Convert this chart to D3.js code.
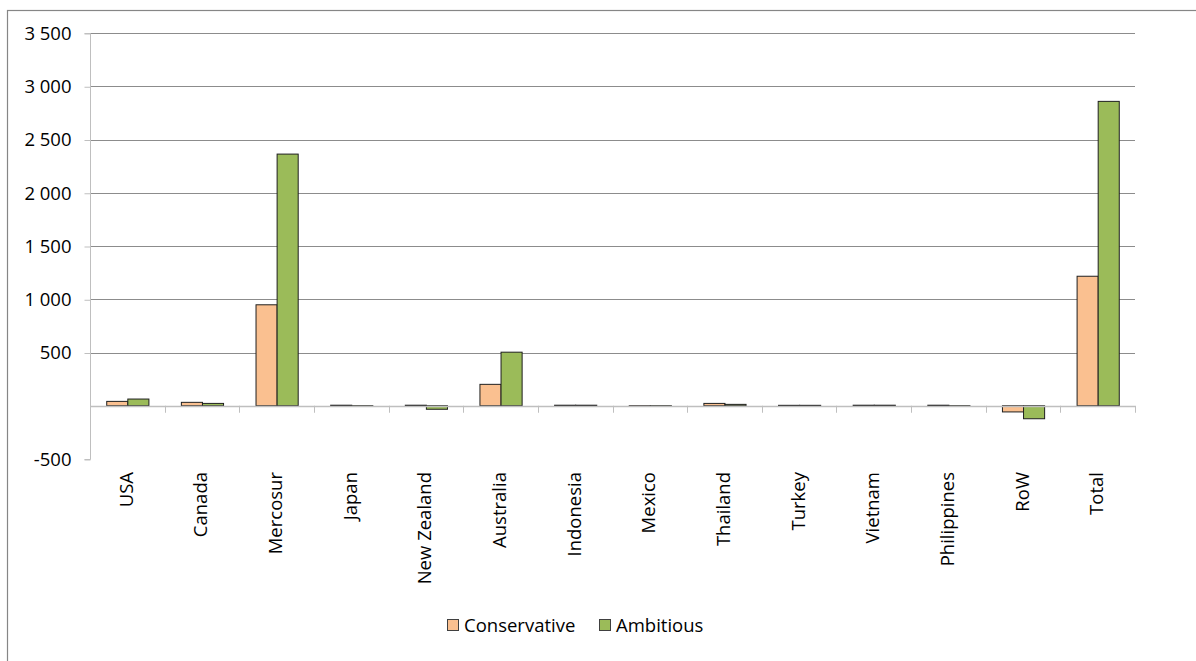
<!DOCTYPE html>
<html>
<head>
<meta charset="utf-8">
<script src="https://cdn.jsdelivr.net/npm/d3@7"></script>
<style>
  html, body { margin: 0; padding: 0; background: #fff; }
  svg { display: block; font-family: "Open Sans", "DejaVu Sans", sans-serif; }
</style>
</head>
<body>
<svg id="chart" width="1196" height="661"></svg>
<script>
// Regions and the two scenario series
const categories = ["USA", "Canada", "Mercosur", "Japan", "New Zealand", "Australia",
  "Indonesia", "Mexico", "Thailand", "Turkey", "Vietnam", "Philippines", "RoW", "Total"];
const seriesNames = ["Conservative", "Ambitious"];
const conservative = [41, 32, 948, 5, 5, 201, 5, -4, 22, 4, 5, 5, -58, 1216];
const ambitious    = [63, 22, 2363, -5, -33, 503, 5, -5, 13, 4, 5, -5, -122, 2858];
const yTicks = [-500, 0, 500, 1000, 1500, 2000, 2500, 3000, 3500];
const seriesColors = ["#FAC090", "#9BBB59"];

const svg = d3.select("#chart");
const plot = { left: 90, right: 1135, top: 33, bottom: 459 };
const fontSize = 18.5;

// Outer chart frame
svg.append("rect")
  .attr("x", 7.5).attr("y", 10.5)
  .attr("width", 1300).attr("height", 800)
  .attr("fill", "none").attr("stroke", "#868686").attr("stroke-width", 1.2);

const y = d3.scaleLinear().domain([-500, 3500]).range([plot.bottom, plot.top]);
const x = d3.scaleBand().domain(categories).range([plot.left, plot.right])
  .paddingInner(0.435).paddingOuter(0.2175);
const xs = d3.scaleBand().domain(seriesNames).range([0, x.bandwidth()]);

// Thousands separated by a space, plain hyphen for negatives
const fmt = v => (v < 0 ? "-" : "") + d3.format(",")(Math.abs(v)).replace(/,/g, " ");

// Horizontal gridlines
svg.append("g").selectAll("line")
  .data(yTicks.filter(d => d !== 0 && d !== -500))
  .join("line")
  .attr("x1", plot.left).attr("x2", plot.right)
  .attr("y1", d => Math.round(y(d)) + 0.5).attr("y2", d => Math.round(y(d)) + 0.5)
  .attr("stroke", "#8c8c8c").attr("stroke-width", 1);

// Y axis
const yAxis = svg.append("g")
  .attr("transform", `translate(${plot.left + 0.5},0.5)`)
  .call(d3.axisLeft(y).tickValues(yTicks).tickSize(6).tickPadding(13)
    .tickFormat(d => d === 0 ? "" : fmt(d)));
yAxis.select(".domain").attr("stroke", "#bfbfbf").attr("d", `M-6,${y(-500)}H0V${y(3500)}H-6`);
yAxis.selectAll(".tick line").attr("stroke", "#bfbfbf");
yAxis.selectAll(".tick text").attr("font-size", fontSize).attr("fill", "#000")
  .attr("font-family", "Open Sans, sans-serif");
yAxis.selectAll(".tick").filter(d => d === 0).select("line").remove();

// Bars
const groups = svg.append("g").selectAll("g")
  .data(categories.map((c, i) => ({ c, vals: [conservative[i], ambitious[i]] })))
  .join("g")
  .attr("transform", d => `translate(${x(d.c)},0)`);
groups.selectAll("rect")
  .data(d => d.vals.map((v, j) => ({ v, s: seriesNames[j], j })))
  .join("rect")
  .attr("x", d => xs(d.s) + 0.5)
  .attr("width", xs.bandwidth())
  .attr("y", d => Math.min(y(d.v), y(0)))
  .attr("height", d => Math.abs(y(d.v) - y(0)))
  .attr("fill", d => seriesColors[d.j])
  .attr("stroke", "#1f1f1f").attr("stroke-width", 1);

// X axis at zero, ticks between categories
const step = x.step();
const boundaries = d3.range(categories.length + 1).map(i => plot.left + i * step);
const xAxis = svg.append("g");
xAxis.append("line")
  .attr("x1", plot.left).attr("x2", plot.right)
  .attr("y1", Math.round(y(0)) + 0.5).attr("y2", Math.round(y(0)) + 0.5)
  .attr("stroke", "#bfbfbf").attr("stroke-width", 1.5);
xAxis.selectAll("line.tk").data(boundaries.slice(1)).join("line")
  .attr("class", "tk")
  .attr("x1", d => Math.round(d) + 0.5).attr("x2", d => Math.round(d) + 0.5)
  .attr("y1", y(0)).attr("y2", y(0) + 7)
  .attr("stroke", "#bfbfbf");

// Category labels, rotated
svg.append("g").selectAll("text")
  .data(categories).join("text")
  .attr("transform", d => `translate(${x(d) + x.bandwidth() / 2 + 5.5},${472}) rotate(-90)`)
  .attr("text-anchor", "end")
  .attr("font-size", fontSize)
  .attr("fill", "#000")
  .text(d => d);

// Legend
const legend = svg.append("g").attr("transform", "translate(447,619)");
const items = [{ name: seriesNames[0], x: 0 }, { name: seriesNames[1], x: 152 }];
items.forEach((it, i) => {
  legend.append("rect").attr("x", it.x + 0.5).attr("y", 0.5).attr("width", 11).attr("height", 11)
    .attr("fill", seriesColors[i]).attr("stroke", "#404040");
  legend.append("text").attr("x", it.x + 17).attr("y", 12.5)
    .attr("font-size", fontSize).attr("fill", "#000").text(it.name);
});
</script>
</body>
</html>
